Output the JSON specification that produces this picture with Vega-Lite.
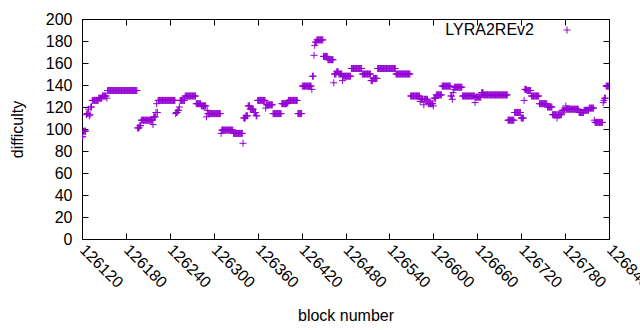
{
"$schema":"https://vega.github.io/schema/vega-lite/v6.json",
"width":527,"height":220,"autosize":"none",
"padding":{"left":82,"top":19,"right":31,"bottom":91},
"background":"white",
"config":{"font":"Liberation Sans","view":{"stroke":"black","strokeWidth":1},
"axis":{"labelFont":"Liberation Sans","titleFont":"Liberation Sans","labelFontSize":16,"titleFontSize":16,"labelColor":"black","titleColor":"black","titleFontWeight":"normal","domainColor":"black","tickColor":"black","grid":false},
"legend":{"labelFont":"Liberation Sans","labelFontSize":16,"labelColor":"black"}},
"data":{"values":[
{"b":126120,"d":93},{"b":126121,"d":93},{"b":126122,"d":98},{"b":126123,"d":98},{"b":126124,"d":98},{"b":126125,"d":98},{"b":126126,"d":113},{"b":126127,"d":114},{"b":126128,"d":114},{"b":126129,"d":118},{"b":126130,"d":112},{"b":126131,"d":113},{"b":126132,"d":120},{"b":126133,"d":120},
{"b":126134,"d":126},{"b":126135,"d":126},{"b":126136,"d":126},{"b":126137,"d":126},{"b":126138,"d":126},{"b":126139,"d":126},{"b":126140,"d":126},{"b":126141,"d":126},{"b":126142,"d":126},
{"b":126143,"d":128},{"b":126144,"d":128},{"b":126145,"d":128},{"b":126146,"d":128},{"b":126147,"d":128},
{"b":126148,"d":130},{"b":126149,"d":130},{"b":126150,"d":130},{"b":126151,"d":130},{"b":126152,"d":130},{"b":126153,"d":130},{"b":126154,"d":128},
{"b":126155,"d":135},{"b":126156,"d":135},{"b":126157,"d":135},{"b":126158,"d":135},{"b":126159,"d":135},{"b":126160,"d":135},{"b":126161,"d":135},{"b":126162,"d":135},{"b":126163,"d":135},{"b":126164,"d":135},
{"b":126165,"d":135},{"b":126166,"d":135},{"b":126167,"d":135},{"b":126168,"d":135},{"b":126169,"d":135},{"b":126170,"d":135},{"b":126171,"d":135},{"b":126172,"d":135},{"b":126173,"d":135},{"b":126174,"d":135},
{"b":126175,"d":135},{"b":126176,"d":135},{"b":126177,"d":135},{"b":126178,"d":135},{"b":126179,"d":135},{"b":126180,"d":135},{"b":126181,"d":135},{"b":126182,"d":135},{"b":126183,"d":135},{"b":126184,"d":135},
{"b":126185,"d":135},{"b":126186,"d":135},{"b":126187,"d":135},{"b":126188,"d":135},{"b":126189,"d":135},{"b":126190,"d":135},{"b":126191,"d":135},{"b":126192,"d":135},{"b":126193,"d":135},{"b":126194,"d":135},{"b":126195,"d":135},
{"b":126196,"d":101},{"b":126197,"d":101},{"b":126198,"d":101},{"b":126199,"d":103},{"b":126200,"d":103},
{"b":126201,"d":108},{"b":126202,"d":108},{"b":126203,"d":108},{"b":126204,"d":108},{"b":126205,"d":108},{"b":126206,"d":108},{"b":126207,"d":108},{"b":126208,"d":108},{"b":126209,"d":108},{"b":126210,"d":108},{"b":126211,"d":108},{"b":126212,"d":108},{"b":126213,"d":108},{"b":126214,"d":108},{"b":126215,"d":108},{"b":126216,"d":108},
{"b":126217,"d":104},{"b":126218,"d":111},{"b":126219,"d":111},{"b":126220,"d":111},{"b":126221,"d":115},{"b":126222,"d":123},{"b":126223,"d":115},
{"b":126224,"d":126},{"b":126225,"d":126},{"b":126226,"d":126},{"b":126227,"d":126},{"b":126228,"d":126},{"b":126229,"d":126},{"b":126230,"d":126},{"b":126231,"d":126},{"b":126232,"d":126},{"b":126233,"d":126},{"b":126234,"d":126},{"b":126235,"d":126},
{"b":126236,"d":126},{"b":126237,"d":126},{"b":126238,"d":126},{"b":126239,"d":126},{"b":126240,"d":126},{"b":126241,"d":126},{"b":126242,"d":126},{"b":126243,"d":126},{"b":126244,"d":126},{"b":126245,"d":126},{"b":126246,"d":126},{"b":126247,"d":126},
{"b":126248,"d":114},{"b":126249,"d":115},{"b":126250,"d":115},{"b":126251,"d":117},{"b":126252,"d":117},{"b":126253,"d":120},
{"b":126254,"d":126},{"b":126255,"d":126},{"b":126256,"d":126},{"b":126257,"d":126},{"b":126258,"d":126},{"b":126259,"d":126},{"b":126260,"d":126},
{"b":126261,"d":130},{"b":126262,"d":130},{"b":126263,"d":130},{"b":126264,"d":130},{"b":126265,"d":130},{"b":126266,"d":130},{"b":126267,"d":130},{"b":126268,"d":130},{"b":126269,"d":130},{"b":126270,"d":130},{"b":126271,"d":130},{"b":126272,"d":130},{"b":126273,"d":130},{"b":126274,"d":130},{"b":126275,"d":130},
{"b":126276,"d":123},{"b":126277,"d":123},{"b":126278,"d":123},{"b":126279,"d":123},{"b":126280,"d":123},{"b":126281,"d":123},{"b":126282,"d":123},
{"b":126283,"d":121},{"b":126284,"d":121},{"b":126285,"d":121},{"b":126286,"d":121},{"b":126287,"d":121},{"b":126288,"d":121},{"b":126289,"d":121},
{"b":126290,"d":111},{"b":126291,"d":117},
{"b":126292,"d":114},{"b":126293,"d":114},{"b":126294,"d":114},{"b":126295,"d":114},{"b":126296,"d":114},{"b":126297,"d":114},{"b":126298,"d":114},{"b":126299,"d":114},{"b":126300,"d":114},{"b":126301,"d":114},{"b":126302,"d":114},{"b":126303,"d":114},{"b":126304,"d":114},{"b":126305,"d":114},{"b":126306,"d":114},{"b":126307,"d":114},{"b":126308,"d":114},{"b":126309,"d":114},
{"b":126310,"d":96},
{"b":126311,"d":99},{"b":126312,"d":99},{"b":126313,"d":99},{"b":126314,"d":99},{"b":126315,"d":99},{"b":126316,"d":99},{"b":126317,"d":99},{"b":126318,"d":99},{"b":126319,"d":99},{"b":126320,"d":99},{"b":126321,"d":99},{"b":126322,"d":99},{"b":126323,"d":99},{"b":126324,"d":99},{"b":126325,"d":99},{"b":126326,"d":99},
{"b":126327,"d":96},{"b":126328,"d":96},{"b":126329,"d":96},{"b":126330,"d":96},{"b":126331,"d":96},{"b":126332,"d":96},{"b":126333,"d":96},{"b":126334,"d":96},{"b":126335,"d":96},{"b":126336,"d":96},{"b":126337,"d":96},{"b":126338,"d":96},{"b":126339,"d":96},
{"b":126340,"d":87},
{"b":126341,"d":110},{"b":126342,"d":110},{"b":126343,"d":110},{"b":126344,"d":112},{"b":126345,"d":112},{"b":126346,"d":112},{"b":126347,"d":121},{"b":126348,"d":121},{"b":126349,"d":121},
{"b":126350,"d":118},{"b":126351,"d":118},{"b":126352,"d":118},{"b":126353,"d":118},{"b":126354,"d":118},{"b":126355,"d":115},{"b":126356,"d":115},{"b":126357,"d":115},{"b":126358,"d":112},{"b":126359,"d":112},
{"b":126360,"d":126},{"b":126361,"d":126},{"b":126362,"d":126},{"b":126363,"d":126},{"b":126364,"d":126},{"b":126365,"d":126},{"b":126366,"d":126},{"b":126367,"d":126},{"b":126368,"d":126},{"b":126369,"d":126},{"b":126370,"d":126},
{"b":126371,"d":119},
{"b":126372,"d":122},{"b":126373,"d":122},{"b":126374,"d":122},{"b":126375,"d":122},{"b":126376,"d":122},{"b":126377,"d":122},{"b":126378,"d":122},{"b":126379,"d":122},{"b":126380,"d":122},
{"b":126381,"d":114},{"b":126382,"d":114},{"b":126383,"d":114},{"b":126384,"d":114},{"b":126385,"d":114},{"b":126386,"d":114},{"b":126387,"d":114},{"b":126388,"d":114},{"b":126389,"d":114},{"b":126390,"d":114},{"b":126391,"d":114},{"b":126392,"d":114},
{"b":126393,"d":123},{"b":126394,"d":123},{"b":126395,"d":123},{"b":126396,"d":123},{"b":126397,"d":123},{"b":126398,"d":123},{"b":126399,"d":123},{"b":126400,"d":123},{"b":126401,"d":124},
{"b":126402,"d":126},{"b":126403,"d":126},{"b":126404,"d":126},{"b":126405,"d":126},{"b":126406,"d":126},{"b":126407,"d":126},{"b":126408,"d":126},{"b":126409,"d":126},{"b":126410,"d":126},{"b":126411,"d":126},{"b":126412,"d":126},{"b":126413,"d":126},{"b":126414,"d":126},
{"b":126415,"d":114},{"b":126416,"d":114},{"b":126417,"d":114},{"b":126418,"d":114},{"b":126419,"d":114},{"b":126420,"d":114},
{"b":126421,"d":139},{"b":126422,"d":139},{"b":126423,"d":139},{"b":126424,"d":139},{"b":126425,"d":139},{"b":126426,"d":139},{"b":126427,"d":139},{"b":126428,"d":139},{"b":126429,"d":139},{"b":126430,"d":139},{"b":126431,"d":139},{"b":126432,"d":139},{"b":126433,"d":139},
{"b":126434,"d":136},{"b":126435,"d":148},{"b":126436,"d":148},{"b":126437,"d":167},{"b":126438,"d":176},{"b":126439,"d":179},{"b":126440,"d":179},
{"b":126441,"d":181},{"b":126442,"d":181},{"b":126443,"d":181},{"b":126444,"d":181},{"b":126445,"d":181},{"b":126446,"d":181},{"b":126447,"d":181},{"b":126448,"d":181},{"b":126449,"d":181},
{"b":126450,"d":166},{"b":126451,"d":166},{"b":126452,"d":166},{"b":126453,"d":166},{"b":126454,"d":166},{"b":126455,"d":166},
{"b":126456,"d":163},{"b":126457,"d":163},{"b":126458,"d":163},{"b":126459,"d":163},{"b":126460,"d":163},{"b":126461,"d":163},{"b":126462,"d":163},{"b":126463,"d":163},
{"b":126464,"d":142},{"b":126465,"d":150},{"b":126466,"d":150},{"b":126467,"d":150},{"b":126468,"d":152},{"b":126469,"d":152},{"b":126470,"d":152},{"b":126471,"d":150},{"b":126472,"d":150},{"b":126473,"d":150},{"b":126474,"d":150},{"b":126475,"d":150},{"b":126476,"d":144},
{"b":126477,"d":148},{"b":126478,"d":148},{"b":126479,"d":148},{"b":126480,"d":148},{"b":126481,"d":148},{"b":126482,"d":148},{"b":126483,"d":148},{"b":126484,"d":148},{"b":126485,"d":148},{"b":126486,"d":148},{"b":126487,"d":148},
{"b":126488,"d":155},{"b":126489,"d":155},{"b":126490,"d":155},{"b":126491,"d":155},{"b":126492,"d":155},{"b":126493,"d":155},{"b":126494,"d":155},{"b":126495,"d":155},{"b":126496,"d":155},{"b":126497,"d":155},{"b":126498,"d":155},{"b":126499,"d":155},{"b":126500,"d":155},{"b":126501,"d":155},{"b":126502,"d":155},
{"b":126503,"d":150},{"b":126504,"d":150},{"b":126505,"d":150},{"b":126506,"d":150},{"b":126507,"d":150},{"b":126508,"d":150},{"b":126509,"d":150},{"b":126510,"d":150},{"b":126511,"d":150},{"b":126512,"d":150},{"b":126513,"d":150},{"b":126514,"d":150},
{"b":126515,"d":144},{"b":126516,"d":144},{"b":126517,"d":144},{"b":126518,"d":146},{"b":126519,"d":146},{"b":126520,"d":146},{"b":126521,"d":146},{"b":126522,"d":146},{"b":126523,"d":146},
{"b":126524,"d":155},{"b":126525,"d":155},{"b":126526,"d":155},{"b":126527,"d":155},{"b":126528,"d":155},{"b":126529,"d":155},{"b":126530,"d":155},{"b":126531,"d":155},{"b":126532,"d":155},{"b":126533,"d":155},{"b":126534,"d":155},{"b":126535,"d":155},{"b":126536,"d":155},
{"b":126537,"d":155},{"b":126538,"d":155},{"b":126539,"d":155},{"b":126540,"d":155},{"b":126541,"d":155},{"b":126542,"d":155},{"b":126543,"d":155},{"b":126544,"d":155},{"b":126545,"d":155},{"b":126546,"d":155},{"b":126547,"d":155},{"b":126548,"d":155},
{"b":126549,"d":150},{"b":126550,"d":150},{"b":126551,"d":150},{"b":126552,"d":150},{"b":126553,"d":150},{"b":126554,"d":150},{"b":126555,"d":150},{"b":126556,"d":150},{"b":126557,"d":150},{"b":126558,"d":150},
{"b":126559,"d":150},{"b":126560,"d":150},{"b":126561,"d":150},{"b":126562,"d":150},{"b":126563,"d":150},{"b":126564,"d":150},{"b":126565,"d":150},{"b":126566,"d":150},{"b":126567,"d":150},{"b":126568,"d":150},
{"b":126569,"d":130},{"b":126570,"d":130},{"b":126571,"d":130},{"b":126572,"d":130},{"b":126573,"d":130},{"b":126574,"d":130},{"b":126575,"d":130},{"b":126576,"d":130},{"b":126577,"d":130},{"b":126578,"d":130},{"b":126579,"d":130},{"b":126580,"d":130},{"b":126581,"d":130},
{"b":126582,"d":125},{"b":126583,"d":127},{"b":126584,"d":127},{"b":126585,"d":127},{"b":126586,"d":127},{"b":126587,"d":122},{"b":126588,"d":127},{"b":126589,"d":127},{"b":126590,"d":127},{"b":126591,"d":127},{"b":126592,"d":127},
{"b":126593,"d":123},{"b":126594,"d":123},{"b":126595,"d":123},{"b":126596,"d":123},{"b":126597,"d":123},{"b":126598,"d":123},{"b":126599,"d":123},{"b":126600,"d":121},
{"b":126601,"d":128},{"b":126602,"d":128},{"b":126603,"d":128},{"b":126604,"d":131},{"b":126605,"d":131},{"b":126606,"d":131},{"b":126607,"d":131},{"b":126608,"d":131},{"b":126609,"d":131},{"b":126610,"d":131},{"b":126611,"d":131},
{"b":126612,"d":139},{"b":126613,"d":139},{"b":126614,"d":139},{"b":126615,"d":139},{"b":126616,"d":139},{"b":126617,"d":139},{"b":126618,"d":139},{"b":126619,"d":139},{"b":126620,"d":139},{"b":126621,"d":139},{"b":126622,"d":139},{"b":126623,"d":139},
{"b":126624,"d":130},{"b":126625,"d":130},{"b":126626,"d":127},{"b":126627,"d":133},{"b":126628,"d":136},
{"b":126629,"d":138},{"b":126630,"d":138},{"b":126631,"d":138},{"b":126632,"d":138},{"b":126633,"d":138},{"b":126634,"d":138},{"b":126635,"d":138},{"b":126636,"d":138},{"b":126637,"d":138},{"b":126638,"d":138},{"b":126639,"d":138},
{"b":126640,"d":130},{"b":126641,"d":130},{"b":126642,"d":130},{"b":126643,"d":130},{"b":126644,"d":130},{"b":126645,"d":130},{"b":126646,"d":130},{"b":126647,"d":130},{"b":126648,"d":130},{"b":126649,"d":130},{"b":126650,"d":130},{"b":126651,"d":130},{"b":126652,"d":130},{"b":126653,"d":130},{"b":126654,"d":130},{"b":126655,"d":130},{"b":126656,"d":130},
{"b":126657,"d":124},
{"b":126658,"d":129},{"b":126659,"d":129},{"b":126660,"d":129},{"b":126661,"d":129},{"b":126662,"d":129},{"b":126663,"d":129},{"b":126664,"d":129},{"b":126665,"d":129},
{"b":126666,"d":133},{"b":126667,"d":133},{"b":126668,"d":133},
{"b":126669,"d":131},{"b":126670,"d":131},{"b":126671,"d":131},{"b":126672,"d":131},{"b":126673,"d":131},{"b":126674,"d":131},{"b":126675,"d":131},{"b":126676,"d":131},{"b":126677,"d":131},{"b":126678,"d":131},{"b":126679,"d":131},
{"b":126680,"d":131},{"b":126681,"d":131},{"b":126682,"d":131},{"b":126683,"d":131},{"b":126684,"d":131},{"b":126685,"d":131},{"b":126686,"d":131},{"b":126687,"d":131},{"b":126688,"d":131},{"b":126689,"d":131},{"b":126690,"d":131},
{"b":126691,"d":131},{"b":126692,"d":131},{"b":126693,"d":131},{"b":126694,"d":131},{"b":126695,"d":131},{"b":126696,"d":131},{"b":126697,"d":131},{"b":126698,"d":131},{"b":126699,"d":131},{"b":126700,"d":131},{"b":126701,"d":131},
{"b":126702,"d":108},{"b":126703,"d":108},{"b":126704,"d":108},{"b":126705,"d":108},{"b":126706,"d":108},{"b":126707,"d":108},{"b":126708,"d":108},{"b":126709,"d":108},{"b":126710,"d":108},
{"b":126711,"d":115},{"b":126712,"d":115},{"b":126713,"d":115},{"b":126714,"d":115},{"b":126715,"d":115},{"b":126716,"d":115},{"b":126717,"d":115},{"b":126718,"d":115},{"b":126719,"d":115},
{"b":126720,"d":110},{"b":126721,"d":110},{"b":126722,"d":110},{"b":126723,"d":110},{"b":126724,"d":126},{"b":126725,"d":136},{"b":126726,"d":136},{"b":126727,"d":136},
{"b":126728,"d":135},{"b":126729,"d":135},{"b":126730,"d":135},{"b":126731,"d":135},{"b":126732,"d":135},{"b":126733,"d":135},
{"b":126734,"d":130},{"b":126735,"d":130},{"b":126736,"d":130},{"b":126737,"d":130},{"b":126738,"d":130},{"b":126739,"d":130},{"b":126740,"d":130},{"b":126741,"d":130},{"b":126742,"d":130},{"b":126743,"d":130},{"b":126744,"d":130},
{"b":126745,"d":123},{"b":126746,"d":123},{"b":126747,"d":123},{"b":126748,"d":123},{"b":126749,"d":123},{"b":126750,"d":123},{"b":126751,"d":123},{"b":126752,"d":123},{"b":126753,"d":123},{"b":126754,"d":123},{"b":126755,"d":123},
{"b":126756,"d":120},{"b":126757,"d":120},{"b":126758,"d":120},{"b":126759,"d":120},{"b":126760,"d":120},{"b":126761,"d":120},{"b":126762,"d":120},
{"b":126763,"d":113},{"b":126764,"d":113},{"b":126765,"d":113},{"b":126766,"d":113},{"b":126767,"d":113},{"b":126768,"d":113},{"b":126769,"d":110},{"b":126770,"d":113},{"b":126771,"d":113},{"b":126772,"d":113},{"b":126773,"d":113},{"b":126774,"d":113},{"b":126775,"d":113},
{"b":126776,"d":117},{"b":126777,"d":117},{"b":126778,"d":117},{"b":126779,"d":117},{"b":126780,"d":117},{"b":126781,"d":121},
{"b":126782,"d":118},{"b":126783,"d":118},{"b":126784,"d":118},{"b":126785,"d":118},{"b":126786,"d":118},{"b":126787,"d":118},{"b":126788,"d":118},{"b":126789,"d":118},{"b":126790,"d":118},{"b":126791,"d":118},{"b":126792,"d":118},{"b":126793,"d":118},{"b":126794,"d":118},{"b":126795,"d":118},{"b":126796,"d":118},{"b":126797,"d":118},{"b":126798,"d":118},
{"b":126799,"d":115},{"b":126800,"d":115},{"b":126801,"d":115},{"b":126802,"d":115},{"b":126803,"d":115},{"b":126804,"d":115},{"b":126805,"d":115},
{"b":126806,"d":117},{"b":126807,"d":117},{"b":126808,"d":117},{"b":126809,"d":117},{"b":126810,"d":117},{"b":126811,"d":117},{"b":126812,"d":117},
{"b":126813,"d":119},{"b":126814,"d":119},{"b":126815,"d":119},{"b":126816,"d":119},{"b":126817,"d":119},{"b":126818,"d":119},{"b":126819,"d":119},
{"b":126820,"d":108},
{"b":126821,"d":106},{"b":126822,"d":106},{"b":126823,"d":106},{"b":126824,"d":106},{"b":126825,"d":106},{"b":126826,"d":106},{"b":126827,"d":106},{"b":126828,"d":106},{"b":126829,"d":106},{"b":126830,"d":106},{"b":126831,"d":106},
{"b":126832,"d":124},{"b":126833,"d":126},{"b":126834,"d":128},{"b":126835,"d":128},
{"b":126836,"d":139},{"b":126837,"d":139},{"b":126838,"d":139},{"b":126839,"d":139},{"b":126840,"d":139}
]},
"layer":[
{"mark":{"type":"point","shape":"M-1,0H1M0,-1V1","filled":false,"strokeWidth":1,"opacity":1,"size":49,"clip":true},
"encoding":{
"x":{"field":"b","type":"quantitative","scale":{"domain":[126120,126840],"nice":false,"zero":false},
"axis":{"title":"block number","values":[126120,126180,126240,126300,126360,126420,126480,126540,126600,126660,126720,126780,126840],"format":"d","labelAngle":45,"labelAlign":"left","labelBaseline":"middle","tickSize":-6,"labelPadding":14,"titlePadding":17,"labelOverlap":false,"labelBound":false,"labelFlush":false}},
"y":{"field":"d","type":"quantitative","scale":{"domain":[0,200],"nice":false},
"axis":{"title":"difficulty","values":[0,20,40,60,80,100,120,140,160,180,200],"tickSize":-6,"labelPadding":16,"titlePadding":20}},
"color":{"datum":"LYRA2REv2","scale":{"range":["#9400d3"]},
"legend":{"title":null,"orient":"none","legendX":477,"legendY":3,"symbolType":"M-1,0H1M0,-1V1","symbolSize":49,"symbolStrokeWidth":1,"symbolFillColor":"transparent","labelAlign":"right","labelOffset":-41}}}},
{"mark":{"type":"point","opacity":0},
"encoding":{
"x":{"field":"b","type":"quantitative","scale":{"domain":[126120,126840],"nice":false,"zero":false},
"axis":{"orient":"top","title":null,"labels":false,"domain":false,"values":[126120,126180,126240,126300,126360,126420,126480,126540,126600,126660,126720,126780,126840],"tickSize":-6}},
"y":{"field":"d","type":"quantitative","scale":{"domain":[0,200],"nice":false},
"axis":{"orient":"right","title":null,"labels":false,"domain":false,"values":[0,20,40,60,80,100,120,140,160,180,200],"tickSize":-6}}}}
],
"resolve":{"axis":{"x":"independent","y":"independent"}}
}
